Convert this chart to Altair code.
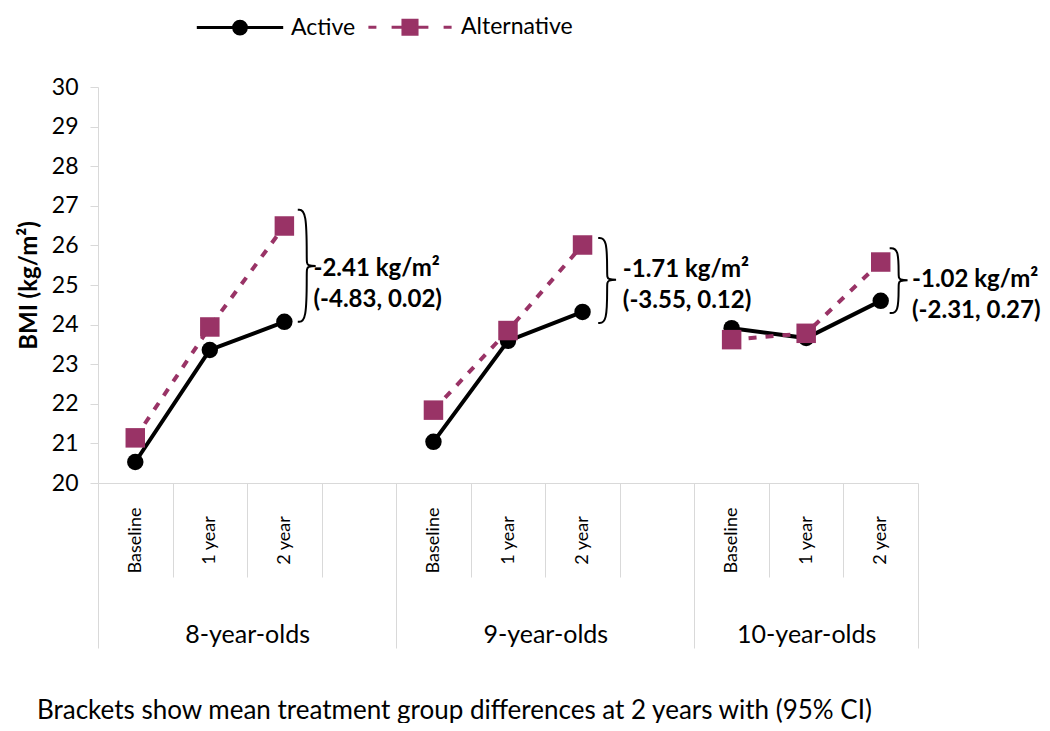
import altair as alt
import pandas as pd

# ---------------- data ----------------
groups = ["8-year-olds", "9-year-olds", "10-year-olds"]
times = ["Baseline", "1 year", "2 year"]
series_names = ["Active", "Alternative"]
active = [[20.53, 23.36, 24.07], [21.04, 23.59, 24.32], [23.91, 23.66, 24.60]]
alternative = [[21.14, 23.94, 26.49], [21.84, 23.85, 26.01], [23.62, 23.78, 25.58]]
diff_labels = ["-2.41 kg/m²", "-1.71 kg/m²", "-1.02 kg/m²"]
ci_labels = ["(-4.83, 0.02)", "(-3.55, 0.12)", "(-2.31, 0.27)"]
brace_top = [26.90, 26.19, 25.93]
brace_bottom = [24.07, 24.04, 24.29]
brace_mid = [25.48, 25.13, 25.12]
label_y = [25.40, 25.38, 25.13]
y_ticks = [20, 21, 22, 23, 24, 25, 26, 27, 28, 29, 30]
caption = "Brackets show mean treatment group differences at 2 years with (95% CI)"

# ---------------- layout helpers (slot positions, not data) ----------------
SLOTS_PER_GROUP = 4
n_slots = SLOTS_PER_GROUP * (len(groups) - 1) + len(times)   # 11
brace_offset = [0.18, 0.21, 0.12]   # hook offset right of the 2-year point (slot units)
text_offset = [0.39, 0.54, 0.42]

BLACK = "#000000"
PLUM = "#993366"
GRAY = "#D9D9D9"
FONT = "Lato"

rows = []
for g, grp in enumerate(groups):
    for t, tm in enumerate(times):
        pos = SLOTS_PER_GROUP * g + t + 0.5
        rows.append(dict(group=grp, time=tm, series="Active", pos=pos, bmi=active[g][t]))
        rows.append(dict(group=grp, time=tm, series="Alternative", pos=pos, bmi=alternative[g][t]))
df = pd.DataFrame(rows)
df_act = df[df.series == "Active"]
df_alt = df[df.series == "Alternative"]

brows = []
for g, grp in enumerate(groups):
    x2 = SLOTS_PER_GROUP * g + 2.5
    xl = x2 + brace_offset[g]
    xs = xl + 0.12
    xt = xl + 0.30
    top, bot, mid = brace_top[g], brace_bottom[g], brace_mid[g]
    d = 0.12
    pts = [(xl, top), (xs, top), (xs, mid + d), (xs, mid), (xt, mid),
           (xs, mid), (xs, mid - d), (xs, bot), (xl, bot)]
    for k, (px, py) in enumerate(pts):
        brows.append(dict(group=grp, k=k, pos=px, bmi=py))
df_brace = pd.DataFrame(brows)

df_text = pd.DataFrame({
    "group": groups,
    "pos": [SLOTS_PER_GROUP * g + 2.5 + text_offset[g] for g in range(len(groups))],
    "bmi": label_y,
    "label": [a + "\n" + b for a, b in zip(diff_labels, ci_labels)],
})

xscale = alt.Scale(domain=[0, n_slots], nice=False, zero=False)
yscale = alt.Scale(domain=[20, 30], nice=False, zero=False)


def X(axis):
    return alt.X("pos:Q", scale=xscale, axis=axis, title=None)


def Y(axis):
    if axis is None:
        return alt.Y("bmi:Q", scale=yscale, axis=None)
    return alt.Y("bmi:Q", scale=yscale, axis=axis)


time_expr = "[" + ",".join("'%s'" % t for t in times) + "][floor(datum.value % 4)]"
group_expr = "[" + ",".join("'%s'" % g for g in groups) + "][datum.value < 4 ? 0 : (datum.value < 8 ? 1 : 2)]"

axis_labels = alt.Axis(
    orient="bottom", values=[SLOTS_PER_GROUP * g + t + 0.5 for g in range(3) for t in range(3)],
    labelExpr=time_expr, ticks=False, domain=True, domainColor=GRAY, domainWidth=1,
    labelAngle=270, labelAlign="center", labelBaseline="middle", labelPadding=57,
    labelFont=FONT, labelFontSize=18, labelColor="black", labelFlush=False,
    labelOverlap=False, grid=False)
axis_inner = alt.Axis(
    orient="bottom", values=[1, 2, 3, 5, 6, 7, 9, 10], labels=False, domain=False,
    ticks=True, tickSize=94, tickColor=GRAY, tickWidth=1, grid=False)
axis_groups = alt.Axis(
    orient="bottom", values=[0, 4, 8, 11], labels=False, domain=False,
    ticks=True, tickSize=165, tickColor=GRAY, tickWidth=1, grid=False)
axis_group_labels = alt.Axis(
    orient="bottom", values=[2, 6, 9.5], labelExpr=group_expr, ticks=False, domain=False,
    labelPadding=139, labelFont=FONT, labelFontSize=25, labelColor="black",
    labelFlush=False, labelOverlap=False, grid=False)
y_axis = alt.Axis(
    orient="left", values=y_ticks, tickSize=8, tickColor=GRAY, domainColor=GRAY, grid=False,
    ticks=True, domain=True, labels=True, zindex=1,
    labelFont=FONT, labelFontSize=23, labelColor="black", labelPadding=12,
    title="BMI (kg/m²)", titleFont=FONT, titleFontSize=24, titleFontWeight="bold",
    titleColor="black", titlePadding=10)

act_line = alt.Chart(df_act).mark_line(color=BLACK, strokeWidth=4).encode(
    x=X(axis_labels), y=Y(y_axis), detail="group:N", order="pos:Q")
act_pts = alt.Chart(df_act).mark_point(shape="circle", filled=True, size=270, color=BLACK, opacity=1).encode(
    x=X(axis_inner), y=Y(None))
alt_line = alt.Chart(df_alt).mark_line(color=PLUM, strokeWidth=4, strokeDash=[8, 9]).encode(
    x=X(axis_groups), y=Y(None), detail="group:N", order="pos:Q")
alt_pts = alt.Chart(df_alt).mark_point(shape="square", filled=True, size=380, color=PLUM, opacity=1).encode(
    x=X(axis_group_labels), y=Y(None))

braces = alt.Chart(df_brace).mark_line(color=BLACK, strokeWidth=2, interpolate="basis").encode(
    x=X(None), y=Y(None), detail="group:N", order="k:Q")

texts = alt.Chart(df_text).mark_text(
    align="left", baseline="middle", font=FONT, fontSize=24, fontWeight="bold",
    color="black", lineBreak="\n", lineHeight=31).encode(
    x=X(None), y=Y(None), text="label:N")

# legend (symbols drawn as line+marker paths)
p_active = "M-5.4,0L5.4,0M-0.8,0A0.8,0.8 0 1,1 0.8,0A0.8,0.8 0 1,1 -0.8,0Z"
p_alt = ("M-5.2,0L-4.2,0M-2.3,0L-0.9,0M0.9,0L2.3,0M4.2,0L5.2,0"
         "M-0.88,-0.88L0.88,-0.88L0.88,0.88L-0.88,0.88Z")
leg = alt.Legend(title=None, orient="none", legendX=130.5, legendY=-71.5, direction="horizontal",
                 symbolSize=256, symbolStrokeWidth=3, symbolOpacity=1, labelFont=FONT,
                 labelFontSize=23, labelColor="black", labelOffset=39.5, columnPadding=6,
                 padding=0)
legend_layer = alt.Chart(df).mark_point(filled=True, opacity=0, size=256).encode(
    x=X(None), y=Y(None),
    fill=alt.Fill("series:N", scale=alt.Scale(domain=series_names, range=[BLACK, PLUM]), legend=leg),
    stroke=alt.Stroke("series:N", scale=alt.Scale(domain=series_names, range=[BLACK, PLUM]), legend=leg),
    shape=alt.Shape("series:N", scale=alt.Scale(domain=series_names, range=[p_active, p_alt]), legend=leg),
)

chart = alt.layer(act_line, act_pts, alt_line, alt_pts, braces, texts, legend_layer).resolve_axis(
    x="independent", y="independent"
).properties(
    width=820, height=396,
    autosize=alt.AutoSizeParams(type="none"),
    padding={"left": 90, "top": 79, "right": 124, "bottom": 240},
    background="white",
    title=alt.TitleParams(caption, orient="bottom", anchor="start", frame="group", dx=-61,
                          offset=49, font=FONT, fontSize=26, fontWeight="normal", color="black"),
).configure_view(stroke=None)

chart.save("out.html", embed_options={"renderer": "svg", "actions": False})
